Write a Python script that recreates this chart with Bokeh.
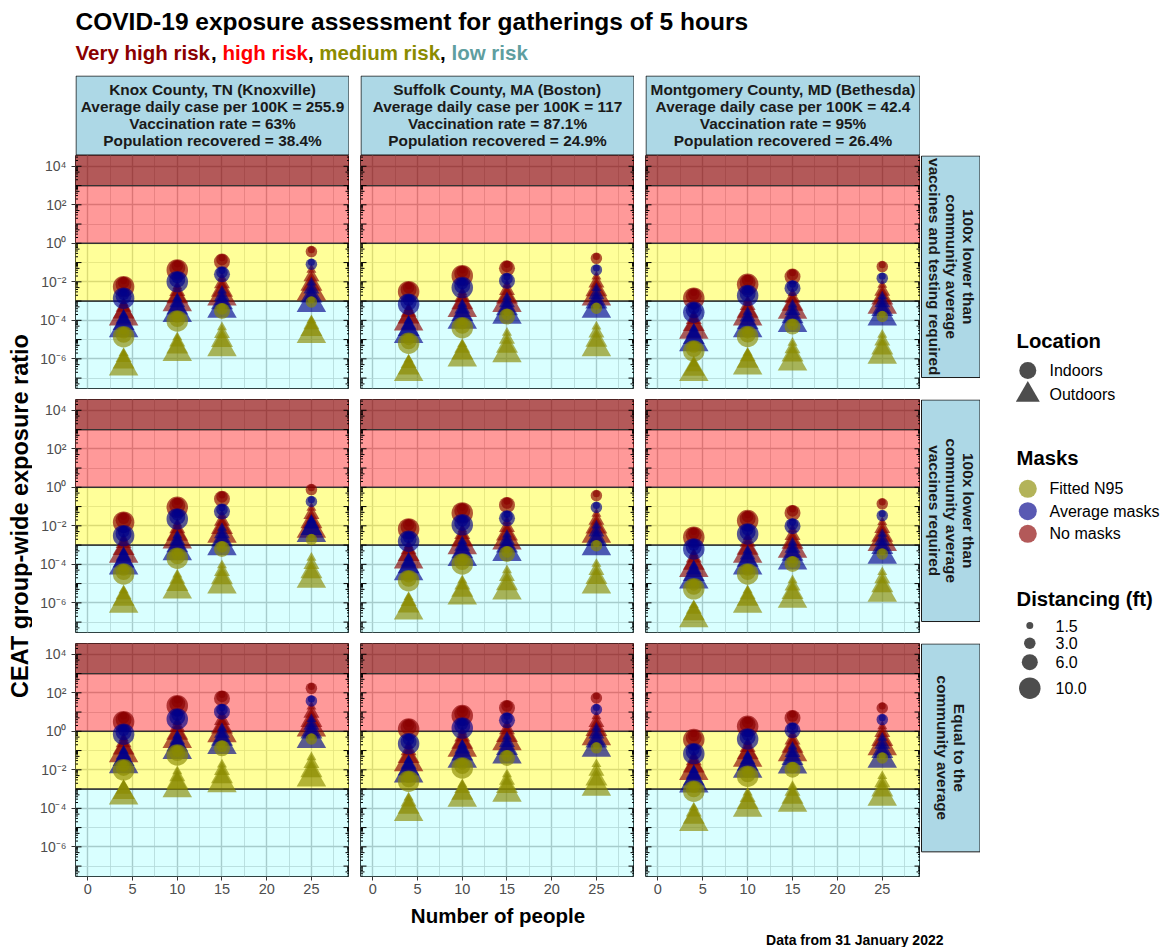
import math
from bokeh.plotting import figure
from bokeh.models import (Range1d, LogAxis, LinearAxis, FixedTicker, Grid,
                          ColumnDataSource, CustomJSTickFormatter, Spacer)
from bokeh.layouts import row, column
from bokeh.core.properties import value
from bokeh.embed import file_html
from bokeh.resources import INLINE

FONT_NAME = "Liberation Sans"
FONT = value(FONT_NAME)

# ---------------------------------------------------------------- data
title_text = "COVID-19 exposure assessment for gatherings of 5 hours"
risk_levels = ["Very high risk", "high risk", "medium risk", "low risk"]
risk_bottoms = [1e3, 1e0, 1e-3, 1e-12]
risk_tops = [1e12, 1e3, 1e0, 1e-3]

group_sizes = [4, 10, 15, 25]
distancing_ft = [1.5, 3.0, 6.0, 10.0]
mask_types = ["No masks", "Average masks", "Fitted N95"]
location_types = ["Indoors", "Outdoors"]

county_labels = [
    ["Knox County, TN (Knoxville)", "Average daily case per 100K = 255.9",
     "Vaccination rate = 63%", "Population recovered = 38.4%"],
    ["Suffolk County, MA (Boston)", "Average daily case per 100K = 117",
     "Vaccination rate = 87.1%", "Population recovered = 24.9%"],
    ["Montgomery County, MD (Bethesda)", "Average daily case per 100K = 42.4",
     "Vaccination rate = 95%", "Population recovered = 26.4%"],
]
scenario_labels = [
    ["100x lower than", "community average", "vaccines and testing required"],
    ["100x lower than", "community average", "vaccines required"],
    ["Equal to the", "community average"],
]
x_ticks = [0, 5, 10, 15, 20, 25]
x_minor_ticks = [2.5, 7.5, 12.5, 17.5, 22.5, 27.5]
y_label_exponents = [-6, -4, -2, 0, 2, 4]
y_odd_exponents = [-7, -5, -3, -1, 1, 3]
caption_text = "Data from 31 January 2022"

# log10(CEAT group-wide exposure ratio)
# [mask: No masks, Average masks, Fitted N95][group size 4,10,15,25][distancing 1.5,3,6,10 ft]
knox_vt_in = [
    [[-1.95, -2.05, -2.15, -2.25], [-1.08, -1.18, -1.28, -1.38], [-0.75, -0.85, -0.95], [-0.33, -0.43]],
    [[-2.55, -2.65, -2.75, -2.85], [-1.69, -1.79, -1.89, -1.99], [-1.41, -1.51, -1.61], [-0.99, -1.09]],
    [[-4.55, -4.65, -4.75, -4.85], [-3.73, -3.83, -3.93, -4.03], [-3.31, -3.41, -3.51], [-2.95, -3.05]],
]
knox_vt_out = [
    [[-3.10, -3.32, -3.57, -3.82], [-2.23, -2.49, -2.78, -3.08], [-1.80, -2.10, -2.44, -2.79], [-1.38, -1.73, -2.13, -2.53]],
    [[-3.70, -3.92, -4.17, -4.43], [-2.84, -3.08, -3.37, -3.65], [-2.46, -2.75, -3.09, -3.43], [-2.04, -2.37, -2.75, -3.13]],
    [[-5.70, -5.92, -6.17, -6.42], [-4.88, -5.12, -5.39, -5.67], [-4.36, -4.68, -5.05, -5.42], [-4.00, -4.22, -4.48, -4.74]],
]
suffolk_vt_in = [
    [[-2.21, -2.31, -2.41, -2.51], [-1.38, -1.48, -1.58, -1.68], [-1.10, -1.20, -1.30], [-0.68, -0.78]],
    [[-2.86, -2.96, -3.06, -3.16], [-2.00, -2.10, -2.20, -2.30], [-1.75, -1.85, -1.95], [-1.28, -1.38]],
    [[-4.89, -4.99, -5.09, -5.19], [-4.08, -4.18, -4.28, -4.38], [-3.60, -3.70, -3.80], [-3.27, -3.37]],
]
suffolk_vt_out = [
    [[-3.36, -3.58, -3.83, -4.08], [-2.53, -2.79, -3.09, -3.39], [-2.15, -2.44, -2.79, -3.13], [-1.73, -2.05, -2.42, -2.79]],
    [[-4.01, -4.23, -4.48, -4.74], [-3.15, -3.41, -3.70, -4.00], [-2.80, -3.08, -3.41, -3.74], [-2.33, -2.66, -3.05, -3.43]],
    [[-6.04, -6.24, -6.48, -6.71], [-5.23, -5.45, -5.70, -5.95], [-4.65, -4.97, -5.35, -5.73], [-4.32, -4.65, -5.04, -5.42]],
]
montgomery_vt_in = [
    [[-2.55, -2.65, -2.75, -2.85], [-1.83, -1.93, -2.03, -2.13], [-1.53, -1.63, -1.73], [-1.11, -1.21]],
    [[-3.28, -3.38, -3.48, -3.58], [-2.41, -2.51, -2.61, -2.71], [-2.13, -2.23, -2.33], [-1.71, -1.81]],
    [[-5.29, -5.39, -5.49, -5.59], [-4.54, -4.64, -4.74, -4.84], [-4.12, -4.22, -4.32], [-3.70, -3.80]],
]
montgomery_vt_out = [
    [[-3.70, -3.95, -4.23, -4.52], [-2.98, -3.23, -3.53, -3.82], [-2.58, -2.85, -3.17, -3.48], [-2.16, -2.48, -2.85, -3.22]],
    [[-4.43, -4.65, -4.90, -5.16], [-3.56, -3.82, -4.13, -4.43], [-3.18, -3.48, -3.82, -4.17], [-2.76, -3.08, -3.45, -3.82]],
    [[-6.25, -6.40, -6.55, -6.71], [-5.69, -5.89, -6.13, -6.37], [-5.17, -5.47, -5.81, -6.16], [-4.75, -5.07, -5.44, -5.81]],
]
knox_v_in = [
    [[-1.51, -1.61, -1.71, -1.81], [-0.74, -0.84, -0.94, -1.04], [-0.40, -0.50, -0.60], [-0.02, -0.12]],
    [[-2.21, -2.31, -2.41, -2.51], [-1.34, -1.44, -1.54, -1.64], [-1.06, -1.16, -1.26], [-0.64, -0.74]],
    [[-4.20, -4.30, -4.40, -4.50], [-3.38, -3.48, -3.58, -3.68], [-3.00, -3.10, -3.20], [-2.61, -2.71]],
]
knox_v_out = [
    [[-2.66, -2.91, -3.19, -3.48], [-1.89, -2.14, -2.44, -2.73], [-1.45, -1.75, -2.09, -2.44], [-1.07, -1.40, -1.79, -2.18]],
    [[-3.36, -3.58, -3.83, -4.08], [-2.49, -2.75, -3.04, -3.34], [-2.11, -2.40, -2.74, -3.08], [-1.69, -1.90, -2.15, -2.40]],
    [[-5.35, -5.57, -5.82, -6.07], [-4.53, -4.77, -5.05, -5.33], [-4.05, -4.36, -4.71, -5.07], [-3.66, -4.00, -4.39, -4.78]],
]
suffolk_v_in = [
    [[-1.86, -1.96, -2.06, -2.16], [-1.03, -1.13, -1.23, -1.33], [-0.72, -0.82, -0.92], [-0.33, -0.43]],
    [[-2.50, -2.60, -2.70, -2.80], [-1.65, -1.75, -1.85, -1.95], [-1.41, -1.51, -1.61], [-0.94, -1.04]],
    [[-4.55, -4.65, -4.75, -4.85], [-3.68, -3.78, -3.88, -3.98], [-3.26, -3.36, -3.46], [-2.93, -3.03]],
]
suffolk_v_out = [
    [[-3.01, -3.24, -3.50, -3.77], [-2.18, -2.44, -2.74, -3.04], [-1.77, -2.08, -2.43, -2.79], [-1.38, -1.70, -2.07, -2.44]],
    [[-3.65, -3.87, -4.13, -4.39], [-2.80, -3.06, -3.35, -3.65], [-2.46, -2.74, -3.06, -3.39], [-1.99, -2.32, -2.70, -3.08]],
    [[-5.70, -5.92, -6.17, -6.42], [-4.83, -5.07, -5.36, -5.64], [-4.31, -4.63, -5.01, -5.38], [-3.98, -4.31, -4.69, -5.07]],
]
montgomery_v_in = [
    [[-2.29, -2.39, -2.49, -2.59], [-1.43, -1.53, -1.63, -1.73], [-1.13, -1.23, -1.33], [-0.76, -0.86]],
    [[-2.90, -3.00, -3.10, -3.20], [-2.12, -2.22, -2.32, -2.42], [-1.82, -1.92, -2.02], [-1.37, -1.47]],
    [[-4.97, -5.07, -5.17, -5.27], [-4.20, -4.30, -4.40, -4.50], [-3.78, -3.88, -3.98], [-3.36, -3.46]],
]
montgomery_v_out = [
    [[-3.44, -3.67, -3.95, -4.22], [-2.58, -2.85, -3.17, -3.48], [-2.18, -2.49, -2.86, -3.22], [-1.81, -2.13, -2.50, -2.87]],
    [[-4.05, -4.28, -4.54, -4.81], [-3.27, -3.51, -3.80, -4.08], [-2.87, -3.16, -3.49, -3.82], [-2.42, -2.75, -3.14, -3.53]],
    [[-6.12, -6.33, -6.58, -6.82], [-5.35, -5.57, -5.82, -6.07], [-4.83, -5.12, -5.47, -5.81], [-4.41, -4.74, -5.12, -5.50]],
]
knox_eq_in = [
    [[0.80, 0.70, 0.60, 0.50], [1.63, 1.53, 1.43, 1.33], [1.91, 1.81, 1.71], [2.33, 2.23]],
    [[0.15, 0.05, -0.05, -0.15], [0.94, 0.84, 0.74, 0.64], [1.22, 1.12, 1.02], [1.68, 1.58]],
    [[-1.70, -1.80, -1.90, -2.00], [-0.93, -1.03, -1.13, -1.23], [-0.68, -0.78, -0.88], [-0.30, -0.40]],
]
knox_eq_out = [
    [[-0.35, -0.59, -0.88, -1.16], [0.48, 0.21, -0.11, -0.42], [0.86, 0.57, 0.22, -0.12], [1.28, 0.95, 0.56, 0.17]],
    [[-1.00, -1.22, -1.47, -1.73], [-0.21, -0.44, -0.72, -0.99], [0.17, -0.10, -0.42, -0.73], [0.63, 0.32, -0.05, -0.42]],
    [[-2.85, -3.00, -3.18, -3.36], [-2.08, -2.35, -2.67, -2.98], [-1.73, -2.03, -2.37, -2.72], [-1.35, -1.67, -2.05, -2.42]],
]
suffolk_eq_in = [
    [[0.42, 0.32, 0.22, 0.12], [1.12, 1.02, 0.92, 0.82], [1.41, 1.31, 1.21], [1.83, 1.73]],
    [[-0.34, -0.44, -0.54, -0.64], [0.47, 0.37, 0.27, 0.17], [0.77, 0.67, 0.57], [1.23, 1.13]],
    [[-2.29, -2.39, -2.49, -2.59], [-1.60, -1.70, -1.80, -1.90], [-1.18, -1.28, -1.38], [-0.76, -0.86]],
]
suffolk_eq_out = [
    [[-0.73, -1.00, -1.32, -1.63], [-0.03, -0.29, -0.58, -0.88], [0.36, 0.09, -0.23, -0.54], [0.78, 0.46, 0.09, -0.28]],
    [[-1.49, -1.71, -1.96, -2.21], [-0.68, -0.91, -1.18, -1.45], [-0.28, -0.57, -0.90, -1.23], [0.18, -0.14, -0.51, -0.88]],
    [[-3.44, -3.67, -3.95, -4.22], [-2.75, -2.97, -3.22, -3.48], [-2.23, -2.53, -2.87, -3.22], [-1.71, -2.07, -2.49, -2.91]],
]
montgomery_eq_in = [
    [[-0.13, -0.23, -0.33, -0.43], [0.56, 0.46, 0.36, 0.26], [0.89, 0.79, 0.69], [1.31, 1.21]],
    [[-0.86, -0.96, -1.06, -1.16], [-0.10, -0.20, -0.30, -0.40], [0.25, 0.15, 0.05], [0.71, 0.61]],
    [[-2.81, -2.91, -3.01, -3.11], [-2.03, -2.13, -2.23, -2.33], [-1.79, -1.89, -1.99], [-1.28, -1.38]],
]
montgomery_eq_out = [
    [[-1.28, -1.52, -1.81, -2.09], [-0.59, -0.83, -1.12, -1.40], [-0.16, -0.45, -0.78, -1.11], [0.26, -0.06, -0.43, -0.80]],
    [[-2.01, -2.23, -2.48, -2.73], [-1.25, -1.47, -1.72, -1.97], [-0.80, -1.09, -1.42, -1.75], [-0.34, -0.67, -1.06, -1.45]],
    [[-3.96, -4.19, -4.47, -4.74], [-3.18, -3.43, -3.71, -4.00], [-2.84, -3.11, -3.43, -3.74], [-2.33, -2.66, -3.05, -3.43]],
]

panel_data = [
    [(knox_vt_in, knox_vt_out), (suffolk_vt_in, suffolk_vt_out), (montgomery_vt_in, montgomery_vt_out)],
    [(knox_v_in, knox_v_out), (suffolk_v_in, suffolk_v_out), (montgomery_v_in, montgomery_v_out)],
    [(knox_eq_in, knox_eq_out), (suffolk_eq_in, suffolk_eq_out), (montgomery_eq_in, montgomery_eq_out)],
]

# ---------------------------------------------------------------- styles
mask_colors = ["#8B0000", "#00008B", "#8B8B00"]
POINT_ALPHA = 0.65
circle_px = [7, 11.5, 16, 21.5]
triangle_px = [10, 16, 22, 29.5]
risk_fill = ["#8B0000", "#FF0000", "#FFFF00", "#00FFFF"]
risk_alpha = [0.65, 0.4, 0.4, 0.15]
risk_text_colors = ["#8B0000", "#FF0000", "#8B8B00", "#5F9EA0"]
X_MIN, X_MAX = -1.38, 29.26
Y_MIN, Y_MAX = 10 ** -7.54, 10 ** 4.56
STRIP_FILL = "#ADD8E6"
DARK = "#1A1A1A"
AXIS_GREY = "#4D4D4D"

SUP_JS = """
const sup = {"-": "\u207b", "0": "\u2070", "1": "\u00b9", "2": "\u00b2", "3": "\u00b3",
             "4": "\u2074", "5": "\u2075", "6": "\u2076", "7": "\u2077", "8": "\u2078", "9": "\u2079"};
const e = Math.round(Math.log(tick) / Math.LN10);
let s = "";
for (const ch of String(e)) { s += sup[ch]; }
return "10" + s;
"""


def strip_grids(p):
    p.center = [cr for cr in p.center if not isinstance(cr, Grid)]


def blank_fig(w, h, xr, yr):
    p = figure(width=w, height=h, x_range=xr, y_range=yr, output_backend="svg",
               toolbar_location=None, x_axis_location=None, y_axis_location=None,
               min_border_left=0, min_border_right=0, min_border_top=0, min_border_bottom=0)
    strip_grids(p)
    p.outline_line_color = None
    p.background_fill_color = "white"
    p.border_fill_color = "white"
    return p


def make_panel(r, c, indoor, outdoor):
    left = 43 if c == 0 else 11
    fw = 274 if c < 2 else 275
    bottom = 27 if r == 2 else 11
    p = figure(width=left + fw, height=233 + bottom,
               x_range=Range1d(X_MIN, X_MAX), y_range=Range1d(Y_MIN, Y_MAX),
               y_axis_type="log", x_axis_location=None, y_axis_location=None,
               output_backend="svg", toolbar_location=None,
               min_border_left=left, min_border_right=0, min_border_top=0,
               min_border_bottom=bottom)
    strip_grids(p)
    p.background_fill_color = "white"
    p.border_fill_color = "white"
    p.outline_line_color = "#333333"
    p.outline_line_width = 1

    p.add_layout(Grid(dimension=0, ticker=FixedTicker(ticks=x_ticks, minor_ticks=x_minor_ticks),
                      grid_line_color="#C4C4C4", grid_line_width=1.4,
                      minor_grid_line_color="#D2D2D2", minor_grid_line_width=0.8))
    p.add_layout(Grid(dimension=1,
                      ticker=FixedTicker(ticks=[10.0 ** e for e in y_label_exponents],
                                         minor_ticks=[10.0 ** e for e in y_odd_exponents]),
                      grid_line_color="#C4C4C4", grid_line_width=1.4,
                      minor_grid_line_color="#D2D2D2", minor_grid_line_width=0.8))

    # risk bands
    p.quad(left=-10, right=40, bottom=risk_bottoms, top=risk_tops,
           fill_color=risk_fill, fill_alpha=risk_alpha,
           line_color="#333333", line_width=1.2)

    # points
    xs, ys, sz, mk, col = [], [], [], [], []
    for m in range(len(mask_types)):
        for gi, n in enumerate(group_sizes):
            for vals, px, marker in ((outdoor[m][gi], triangle_px, "triangle"),
                                     (indoor[m][gi], circle_px, "circle")):
                for di in reversed(range(len(vals))):
                    xs.append(n)
                    ys.append(10 ** vals[di])
                    sz.append(px[di])
                    mk.append(marker)
                    col.append(mask_colors[m])
    src = ColumnDataSource(dict(x=xs, y=ys, size=sz, marker=mk, color=col))
    p.scatter(x="x", y="y", size="size", marker="marker", fill_color="color",
              fill_alpha=POINT_ALPHA, line_color=None, source=src)

    # log ticks inside both sides
    decades = list(range(-8, 5))
    long_t = [10.0 ** e for e in decades]
    mid_t = [5 * 10.0 ** e for e in decades]
    short_t = [k * 10.0 ** e for e in decades for k in (2, 3, 4, 6, 7, 8, 9)]
    for ticks, L in ((long_t, 6), (mid_t, 4), (short_t, 2.5)):
        p.ray(x=[X_MIN] * len(ticks), y=ticks, length=L, angle=0, length_units="screen",
              line_color="black", line_width=1)
        p.ray(x=[X_MAX] * len(ticks), y=ticks, length=L, angle=math.pi, length_units="screen",
              line_color="black", line_width=1)

    if c == 0:
        ax = LogAxis(ticker=FixedTicker(ticks=[10.0 ** e for e in y_label_exponents]),
                     formatter=CustomJSTickFormatter(code=SUP_JS),
                     major_tick_in=0, major_tick_out=4, minor_tick_in=0, minor_tick_out=0,
                     axis_line_color=None, major_tick_line_color="#333333",
                     major_label_text_color=AXIS_GREY, major_label_text_font=FONT_NAME,
                     major_label_text_font_size="14px", major_label_standoff=5)
        p.add_layout(ax, "left")
    if r == 2:
        bx = LinearAxis(ticker=FixedTicker(ticks=x_ticks),
                        major_tick_in=0, major_tick_out=4, minor_tick_in=0, minor_tick_out=0,
                        axis_line_color=None, major_tick_line_color="#333333",
                        major_label_text_color=AXIS_GREY, major_label_text_font=FONT_NAME,
                        major_label_text_font_size="14.5px", major_label_standoff=3)
        p.add_layout(bx, "below")
    return p


def top_strip(lines, w):
    p = blank_fig(w, 80, Range1d(0, w), Range1d(0, 80))
    p.quad(left=[0.5], right=[w - 0.5], bottom=[0.5], top=[79.5],
           fill_color=STRIP_FILL, line_color=DARK, line_width=1)
    p.text(x=[w / 2] * len(lines), y=[66, 49, 32, 15], text=lines,
           text_align="center", text_baseline="middle", text_font=FONT,
           text_font_style="bold", text_font_size="15.4px", text_color=DARK)
    return p


def right_strip(lines, h, frame_bottom):
    p = blank_fig(60, h, Range1d(0, 60), Range1d(0, h))
    p.quad(left=[1], right=[59.5], bottom=[frame_bottom + 0.5], top=[h - 0.5],
           fill_color=STRIP_FILL, line_color=DARK, line_width=1)
    n = len(lines)
    cy = (frame_bottom + h) / 2
    xs = [30.5 + ((n - 1) / 2 - i) * 17 for i in range(n)]
    p.text(x=xs, y=[cy] * n, text=lines, angle=-math.pi / 2,
           text_align="center", text_baseline="middle", text_font=FONT,
           text_font_style="bold", text_font_size="15.4px", text_color=DARK)
    return p


# ---------------------------------------------------------------- header (y 0-75)
header = blank_fig(1162, 75, Range1d(0, 1162), Range1d(75, 0))
header.text(x=[75], y=[21], text=[title_text], text_font=FONT, text_font_style="bold",
            text_font_size="24.5px", text_color="black", text_baseline="middle")
sub_x = [75, 222.0, 318.8, 451.0]
header.text(x=sub_x, y=[52] * 4, text=risk_levels, text_color=risk_text_colors,
            text_font=FONT, text_font_style="bold", text_font_size="20.5px",
            text_baseline="middle")
header.text(x=[210.6, 307.4, 439.6], y=[52] * 3, text=[",", ",", ","], text_color="black",
            text_font=FONT, text_font_style="bold", text_font_size="20.5px",
            text_baseline="middle")

# ---------------------------------------------------------------- y label (x 0-32)
ylab = blank_fig(32, 828, Range1d(0, 32), Range1d(0, 828))
ylab.text(x=[19], y=[387.5], text=["CEAT group-wide exposure ratio"], angle=math.pi / 2,
          text_align="center", text_baseline="middle", text_font=FONT,
          text_font_style="bold", text_font_size="23.5px", text_color="black")

# ---------------------------------------------------------------- grid of panels
strip_row = row(Spacer(width=43, height=80), top_strip(county_labels[0], 274),
                Spacer(width=11, height=80), top_strip(county_labels[1], 274),
                Spacer(width=11, height=80), top_strip(county_labels[2], 275),
                Spacer(width=60, height=80))
panel_rows = []
for r in range(3):
    figs = [make_panel(r, c, *panel_data[r][c]) for c in range(3)]
    h = 260 if r == 2 else 244
    fb = 27 if r == 2 else 11
    figs.append(right_strip(scenario_labels[r], h, fb))
    panel_rows.append(row(*figs))
grid_col = column(strip_row, *panel_rows)

# ---------------------------------------------------------------- legend (x 980-1162)
leg = blank_fig(182, 828, Range1d(0, 182), Range1d(828, 0))
leg.text(x=[36, 36, 36], y=[265, 382, 523], text=["Location", "Masks", "Distancing (ft)"],
         text_font=FONT, text_font_style="bold", text_font_size="20.3px", text_color="black",
         text_baseline="middle")
leg.scatter(x=[47.3, 47.3], y=[295, 319.3], size=[17, 24], marker=["circle", "triangle"],
            fill_color=AXIS_GREY, line_color=None)
leg.text(x=[69, 69], y=[295, 319], text=location_types, text_font=FONT,
         text_font_size="16px", text_color="black", text_baseline="middle")
mask_leg_order = [2, 1, 0]
leg.scatter(x=[47.3] * 3, y=[413.3, 435.7, 458.3], size=18, marker="circle",
            fill_color=[mask_colors[i] for i in mask_leg_order], fill_alpha=POINT_ALPHA,
            line_color=None)
leg.text(x=[69] * 3, y=[413.3, 435.7, 458.3], text=[mask_types[i] for i in mask_leg_order],
         text_font=FONT, text_font_size="16px", text_color="black", text_baseline="middle")
leg.scatter(x=[49.3] * 4, y=[550, 567.7, 586.7, 612.7], size=circle_px, marker="circle",
            fill_color=AXIS_GREY, line_color=None)
leg.text(x=[75] * 4, y=[550, 567.7, 586.7, 612.7], text=["%.1f" % d for d in distancing_ft],
         text_font=FONT, text_font_size="16px", text_color="black", text_baseline="middle")

body = row(ylab, grid_col, leg)

# ---------------------------------------------------------------- footer (y 903-947)
footer = blank_fig(1162, 44, Range1d(0, 1162), Range1d(44, 0))
footer.text(x=[497.5], y=[12], text=["Number of people"], text_align="center",
            text_baseline="middle", text_font=FONT, text_font_style="bold",
            text_font_size="20.5px", text_color="black")
footer.text(x=[943], y=[36], text=[caption_text], text_align="right",
            text_baseline="middle", text_font=FONT, text_font_style="bold",
            text_font_size="14px", text_color="black")

page = column(header, body, footer)

with open("out.html", "w", encoding="utf-8") as f:
    f.write(file_html(page, INLINE))
